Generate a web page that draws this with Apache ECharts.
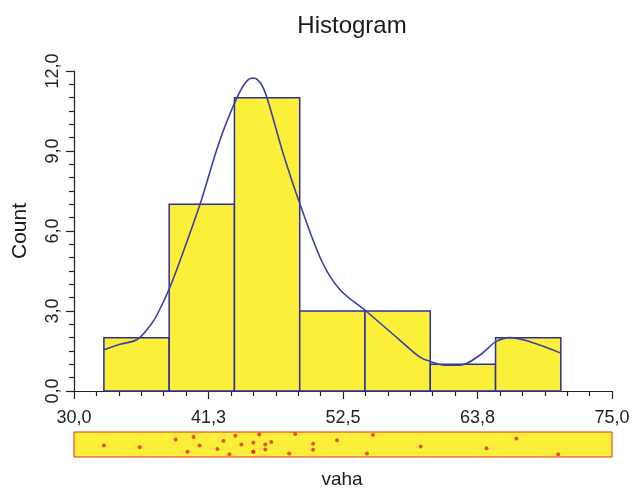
<!DOCTYPE html>
<html>
<head>
<meta charset="utf-8">
<script src="https://cdn.jsdelivr.net/npm/echarts@6/dist/echarts.min.js"></script>
<style>
html,body{margin:0;padding:0;background:#fff;}
#chart{width:636px;height:490px;}
</style>
</head>
<body>
<div id="chart"></div>
<script>
// ---- data ----
const binEdges = [32.5, 37.96, 43.42, 48.88, 54.34, 59.8, 65.26, 70.72];
const binCounts = [2, 7, 11, 3, 3, 1, 2];

const densityX = [32.51, 33.85, 35.27, 36.36, 36.94, 38.03, 39.2, 40.54, 42.2, 43.63, 44.4, 44.97, 45.6, 46.14, 47.5, 48.99, 50.8, 52.25, 54.42, 57.27, 58.94, 59.86, 61.0, 62.29, 63.96, 65.3, 66.47, 68.14, 70.73];
const densityY = [1.55, 1.75, 1.93, 2.45, 2.85, 3.9, 5.3, 7.0, 9.4, 11.0, 11.6, 11.74, 11.55, 11.0, 8.9, 6.9, 4.8, 3.8, 3.0, 1.9, 1.27, 1.1, 0.97, 0.97, 1.35, 1.85, 2.0, 1.85, 1.42];

const stripValues = [32.5, 35.5, 38.5, 39.5, 40, 40.5, 42, 42.5, 43, 43.5, 44, 45, 45, 45, 45.5, 46, 46, 46.5, 48, 48.5, 50, 50, 52, 54.5, 55, 59, 64.5, 67, 70.5];
const stripJitter = [0.46, 0.39, 0.7, 0.21, 0.8, 0.46, 0.32, 0.64, 0.11, 0.85, 0.5, 0.57, 0.21, 0.21, 0.9, 0.5, 0.3, 0.6, 0.14, 0.92, 0.53, 0.29, 0.67, 0.14, 0.88, 0.42, 0.35, 0.74, 0.11];

const xTickLabels = ['30,0', '41,3', '52,5', '63,8', '75,0'];
const yTickLabels = ['0,0', '3,0', '6,0', '9,0', '12,0'];

const titleText = 'Histogram';
const yName = 'Count';
const xName = 'vaha';

// ---- build ----
const barData = binCounts.map((c, i) => [binEdges[i], binEdges[i + 1], c]);
const densityData = densityX.map((x, i) => [x, densityY[i]]);
const stripData = stripValues.map((v, i) => [v, stripJitter[i]]);

const FONT = 'Liberation Sans, Arial, sans-serif';
const YELLOW = '#FCEF3A';
const NAVY = '#2B2E9C';

const chart = echarts.init(document.getElementById('chart'), null, {renderer: 'canvas'});
chart.setOption({
  animation: false,
  backgroundColor: '#ffffff',
  title: {
    text: titleText,
    left: 347, top: 9,
    textAlign: 'center',
    textStyle: {fontFamily: FONT, fontSize: 24, fontWeight: 'normal', color: '#1a1a1a'}
  },
  graphic: [{
    type: 'text', x: 342, y: 470,
    style: {text: xName, fontFamily: FONT, fontSize: 19, fill: '#1a1a1a', textAlign: 'center', textVerticalAlign: 'top'}
  }],
  grid: [
    {left: 74, right: 24, top: 71, height: 320},
    {left: 74, right: 24, top: 432, height: 25, show: true,
     backgroundColor: YELLOW, borderColor: '#E0301E', borderWidth: 1}
  ],
  xAxis: [
    {type: 'value', gridIndex: 0, min: 30, max: 75, show: false},
    {type: 'value', gridIndex: 0, min: 0, max: 4, interval: 1, position: 'bottom',
     axisLine: {show: true, onZero: false, lineStyle: {color: '#222', width: 1.2}},
     axisTick: {show: true, length: 8, lineStyle: {color: '#222', width: 1.2}},
     minorTick: {show: true, splitNumber: 6, length: 5, lineStyle: {color: '#222', width: 1.2}},
     splitLine: {show: false},
     axisLabel: {fontFamily: FONT, fontSize: 18, color: '#222', margin: 18,
       formatter: v => xTickLabels[Math.round(v)]}},
    {type: 'value', gridIndex: 1, min: 30, max: 75, show: false}
  ],
  yAxis: [
    {type: 'value', gridIndex: 0, min: 0, max: 12, interval: 3,
     name: yName, nameLocation: 'middle', nameGap: 43, nameRotate: 90,
     nameTextStyle: {fontFamily: FONT, fontSize: 21, color: '#1a1a1a'},
     axisLine: {show: true, lineStyle: {color: '#222', width: 1.2}},
     axisTick: {show: true, length: 8, lineStyle: {color: '#222', width: 1.2}},
     minorTick: {show: true, splitNumber: 6, length: 5, lineStyle: {color: '#222', width: 1.2}},
     splitLine: {show: false},
     axisLabel: {fontFamily: FONT, fontSize: 18, color: '#222', rotate: 90, margin: 12,
       align: 'center', verticalAlign: 'bottom',
       formatter: v => yTickLabels[Math.round(v / 3)]}},
    {type: 'value', gridIndex: 1, min: 0, max: 1, show: false}
  ],
  series: [
    {
      type: 'custom', xAxisIndex: 0, yAxisIndex: 0,
      data: barData,
      encode: {x: [0, 1], y: 2},
      renderItem: function (params, api) {
        const p0 = api.coord([api.value(0), 0]);
        const p1 = api.coord([api.value(1), api.value(2)]);
        return {
          type: 'rect',
          shape: {x: p0[0], y: p1[1], width: p1[0] - p0[0], height: p0[1] - p1[1]},
          style: {fill: YELLOW, stroke: NAVY, lineWidth: 1.5}
        };
      },
      z: 2
    },
    {
      type: 'line', xAxisIndex: 0, yAxisIndex: 0,
      data: densityData, smooth: 0.35, showSymbol: false,
      lineStyle: {color: '#3B40A6', width: 1.6}, z: 3
    },
    {
      type: 'scatter', xAxisIndex: 2, yAxisIndex: 1,
      data: stripData, symbolSize: 4,
      itemStyle: {color: '#E02A1E'}
    }
  ]
});
</script>
</body>
</html>
